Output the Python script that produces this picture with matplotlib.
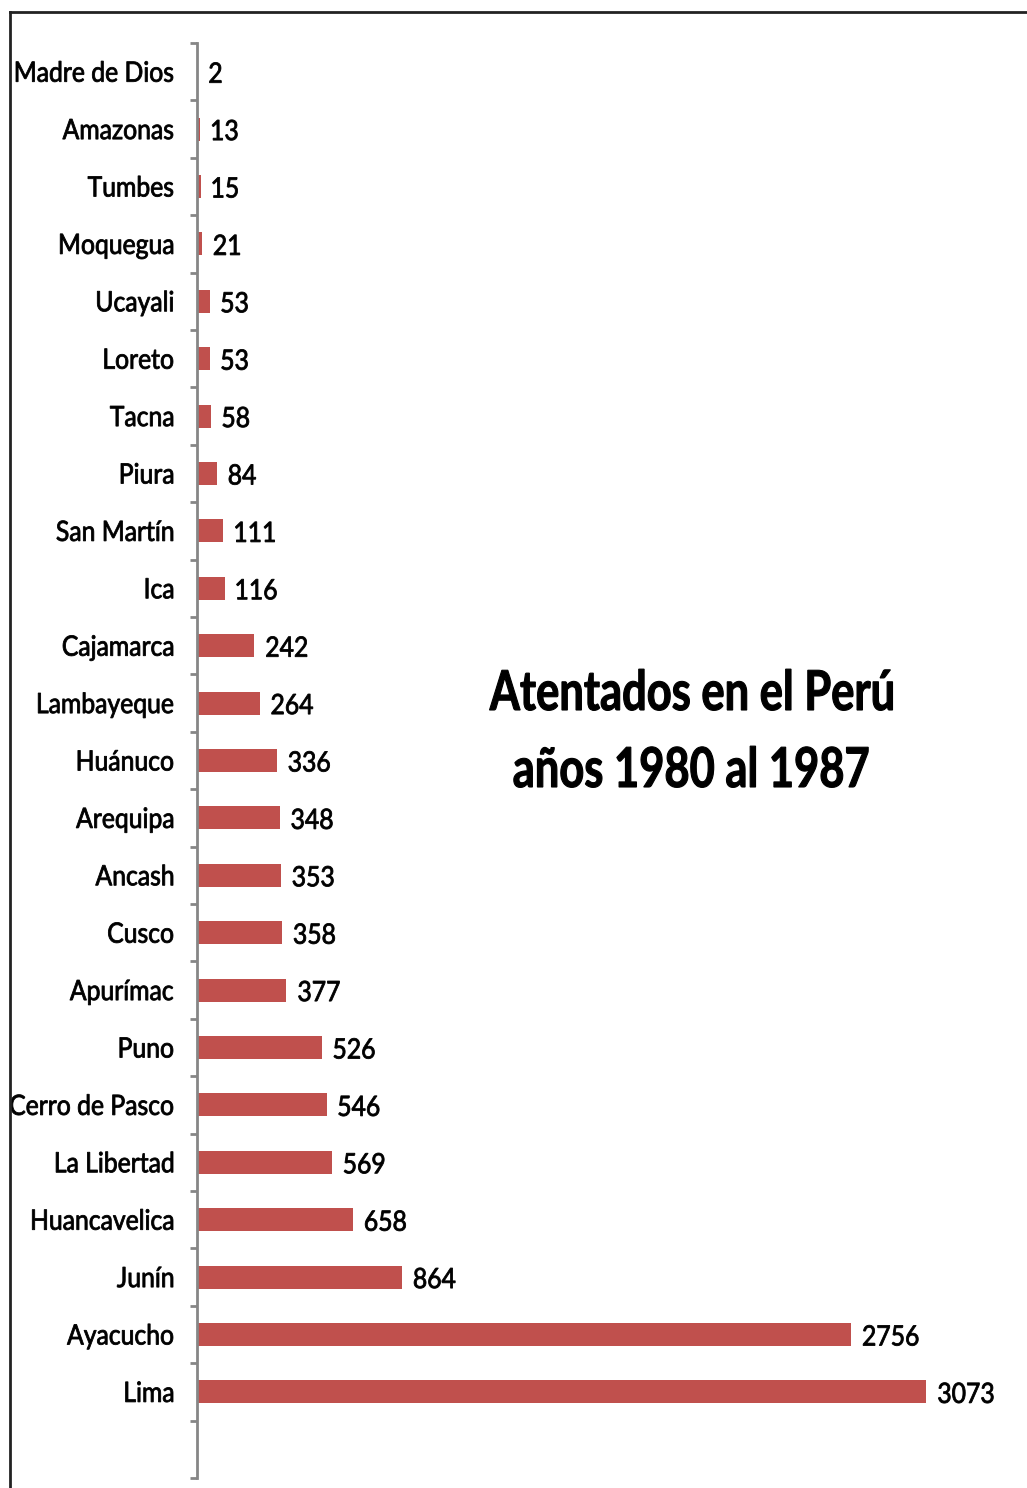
import matplotlib.pyplot as plt
from matplotlib.lines import Line2D
from matplotlib.patches import PathPatch
from matplotlib.textpath import TextPath
from matplotlib.font_manager import FontProperties
from matplotlib.transforms import Affine2D

departamentos = ['Madre de Dios', 'Amazonas', 'Tumbes', 'Moquegua', 'Ucayali',
                 'Loreto', 'Tacna', 'Piura', 'San Martín', 'Ica', 'Cajamarca',
                 'Lambayeque', 'Huánuco', 'Arequipa', 'Ancash', 'Cusco',
                 'Apurímac', 'Puno', 'Cerro de Pasco', 'La Libertad',
                 'Huancavelica', 'Junín', 'Ayacucho', 'Lima']
atentados = [2, 13, 15, 21, 53, 53, 58, 84, 111, 116, 242, 264, 336, 348,
             353, 358, 377, 526, 546, 569, 658, 864, 2756, 3073]
titulo = ['Atentados en el Perú', 'años 1980 al 1987']

W, H = 1027, 1488
fig = plt.figure(figsize=(W / 100, H / 100), dpi=100)
ax = fig.add_axes([197 / W, 1 - 1478 / H, (1004 - 197) / W, (1478 - 43) / H])

regular = FontProperties(family='Lato')
bold = FontProperties(family='Lato', weight='bold')


def squeeze(s, size, prop, width):
    # horizontal scale that makes string s come out `width` pixels wide
    ext = TextPath((0, 0), s, size=size, prop=prop).get_extents()
    return width / (ext.x1 - ext.x0)


def label(s, x, y, size, sx, prop, ha='left', lw=0.6):
    # text drawn as a path so it can be condensed; x, y in pixels, y = baseline
    tp = TextPath((0, 0), s, size=size, prop=prop)
    ext = tp.get_extents()
    if ha == 'right':
        dx = -ext.x1 * sx
    elif ha == 'center':
        dx = -(ext.x0 + ext.x1) / 2 * sx
    else:
        dx = -ext.x0 * sx
    tr = Affine2D().scale(sx, 1).translate(x + dx, y)
    fig.add_artist(PathPatch(tp, transform=tr, fc='black', ec='black', lw=lw))


n = len(departamentos)
pos = [i + 0.5 for i in range(n)]
ax.barh(pos, atentados, height=0.4, color='#C0504D')
ax.set_xlim(0, 3400)
ax.set_ylim(n + 1, 0)

# boundary ticks on the category axis
ax.set_yticks(range(n + 2))
ax.set_yticklabels([])
ax.tick_params(axis='y', which='major', length=5, width=2, color='#868686')
ax.set_xticks([])
for s in ['top', 'right', 'bottom']:
    ax.spines[s].set_visible(False)
ax.spines['left'].set_color('#868686')
ax.spines['left'].set_linewidth(2)

fs = 28
sx = squeeze('Madre de Dios', fs, regular, 157)
x0 = ax.transData.transform((0, 0))[0]
for name, v, y in zip(departamentos, atentados, pos):
    xe, yc = ax.transData.transform((v, y))
    label(name, x0 - 24, yc - 10, fs, sx, regular, ha='right')
    label(str(v), xe + 12, yc - 11, fs, sx, regular)

ts = 55
tsx = squeeze(titulo[0], ts, bold, 403)
label(titulo[0], 691, H - 710, ts, tsx, bold, ha='center', lw=0.8)
label(titulo[1], 691, H - 787, ts, tsx, bold, ha='center', lw=0.8)

# outer frame, top and left edges
fig.add_artist(Line2D([10 / W, 1], [1 - 12 / H] * 2, color='#222222', lw=2,
                      transform=fig.transFigure))
fig.add_artist(Line2D([10 / W] * 2, [0, 1 - 12 / H], color='#222222', lw=2,
                      transform=fig.transFigure))

fig.savefig('out.png', dpi=100)
